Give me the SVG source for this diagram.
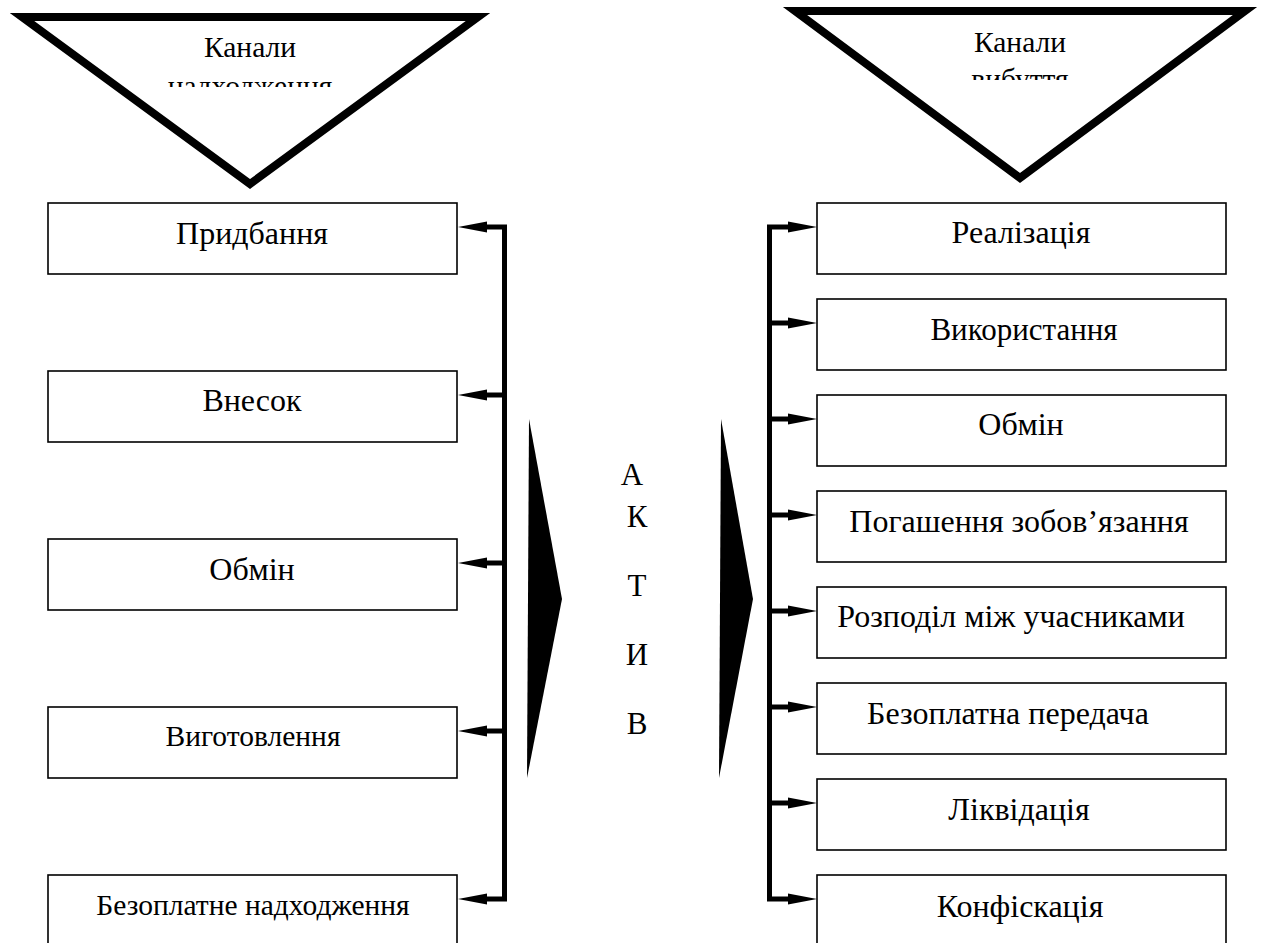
<svg xmlns="http://www.w3.org/2000/svg" width="1265" height="943" viewBox="0 0 1265 943">
<style>
.box{fill:#fff;stroke:#000;stroke-width:1.6}
.t{font-family:"Liberation Serif","Times New Roman",serif;fill:#000;text-anchor:middle}
.bus{fill:none;stroke:#000;stroke-width:5;stroke-linejoin:miter}
.tri{fill:#fff;stroke:#000;stroke-width:8;stroke-linejoin:miter}
</style>
<defs>
<path id="ahL" d="M0,0 L29,-5.5 L29,5.5 Z" fill="#000"/>
<path id="ahR" d="M0,0 L-29,-5.5 L-29,5.5 Z" fill="#000"/>
<clipPath id="clipL"><rect x="60" y="20" width="380" height="67"/></clipPath>
<clipPath id="clipR"><rect x="830" y="14" width="380" height="66"/></clipPath>
</defs>

<g id="in-channels">
<polygon class="tri" points="22,17 478,17 250,184"/>
<g clip-path="url(#clipL)">
<text class="t" x="250" y="57" font-size="29.5">Канали</text>
<text class="t" x="250" y="96" font-size="29.5">надходження</text>
</g>
</g>

<g id="out-channels">
<polygon class="tri" points="795,11 1245,11 1020,178"/>
<g clip-path="url(#clipR)">
<text class="t" x="1020" y="52" font-size="29.5">Канали</text>
<text class="t" x="1020" y="89" font-size="29.5">вибуття</text>
</g>
</g>

<g id="aktyv">
<polygon points="529,419 527,778 562,599" fill="#000"/>
<polygon points="721,419 719,778 753,599" fill="#000"/>
<text class="t" x="632" y="485" font-size="31">А</text>
<text class="t" x="637" y="527" font-size="31">К</text>
<text class="t" x="637" y="596" font-size="31">Т</text>
<text class="t" x="637" y="665" font-size="31">И</text>
<text class="t" x="637" y="734" font-size="31">В</text>
</g>

<g id="L1"><rect class="box" x="48" y="203" width="409" height="71"/><text class="t" x="252" y="244" font-size="32">Придбання</text></g>
<g id="L2"><rect class="box" x="48" y="371" width="409" height="71"/><text class="t" x="252" y="411" font-size="32">Внесок</text></g>
<g id="L3"><rect class="box" x="48" y="539" width="409" height="71"/><text class="t" x="252" y="580" font-size="32">Обмін</text></g>
<g id="L4"><rect class="box" x="48" y="707" width="409" height="71"/><text class="t" x="253" y="746" font-size="29.5">Виготовлення</text></g>
<g id="L5"><rect class="box" x="48" y="875" width="409" height="80"/><text class="t" x="253" y="915" font-size="29.5">Безоплатне надходження</text></g>

<g id="R1"><rect class="box" x="817" y="203" width="409" height="71"/><text class="t" x="1021" y="243" font-size="32">Реалізація</text></g>
<g id="R2"><rect class="box" x="817" y="299" width="409" height="71"/><text class="t" x="1024" y="340" font-size="31">Використання</text></g>
<g id="R3"><rect class="box" x="817" y="395" width="409" height="71"/><text class="t" x="1021" y="435" font-size="32">Обмін</text></g>
<g id="R4"><rect class="box" x="817" y="491" width="409" height="71"/><text class="t" x="1019" y="532" font-size="32">Погашення зобов’язання</text></g>
<g id="R5"><rect class="box" x="817" y="587" width="409" height="71"/><text class="t" x="1011" y="627" font-size="32">Розподіл між учасниками</text></g>
<g id="R6"><rect class="box" x="817" y="683" width="409" height="71"/><text class="t" x="1008" y="724" font-size="32">Безоплатна передача</text></g>
<g id="R7"><rect class="box" x="817" y="779" width="409" height="71"/><text class="t" x="1019" y="820" font-size="32">Ліквідація</text></g>
<g id="R8"><rect class="box" x="817" y="875" width="409" height="80"/><text class="t" x="1020" y="917" font-size="32">Конфіскація</text></g>

<g id="connectors">
<polyline class="bus" points="487,227 504.5,227 504.5,899 487,899"/>
<line class="bus" x1="487" y1="395" x2="504.5" y2="395"/>
<line class="bus" x1="487" y1="563" x2="504.5" y2="563"/>
<line class="bus" x1="487" y1="731" x2="504.5" y2="731"/>
<use href="#ahL" x="458" y="227"/>
<use href="#ahL" x="458" y="395"/>
<use href="#ahL" x="458" y="563"/>
<use href="#ahL" x="458" y="731"/>
<use href="#ahL" x="458" y="899"/>

<polyline class="bus" points="788,227 769.5,227 769.5,899 788,899"/>
<line class="bus" x1="769.5" y1="323" x2="788" y2="323"/>
<line class="bus" x1="769.5" y1="419" x2="788" y2="419"/>
<line class="bus" x1="769.5" y1="515" x2="788" y2="515"/>
<line class="bus" x1="769.5" y1="611" x2="788" y2="611"/>
<line class="bus" x1="769.5" y1="707" x2="788" y2="707"/>
<line class="bus" x1="769.5" y1="803" x2="788" y2="803"/>
<use href="#ahR" x="817" y="227"/>
<use href="#ahR" x="817" y="323"/>
<use href="#ahR" x="817" y="419"/>
<use href="#ahR" x="817" y="515"/>
<use href="#ahR" x="817" y="611"/>
<use href="#ahR" x="817" y="707"/>
<use href="#ahR" x="817" y="803"/>
<use href="#ahR" x="817" y="899"/>
</g>
</svg>
